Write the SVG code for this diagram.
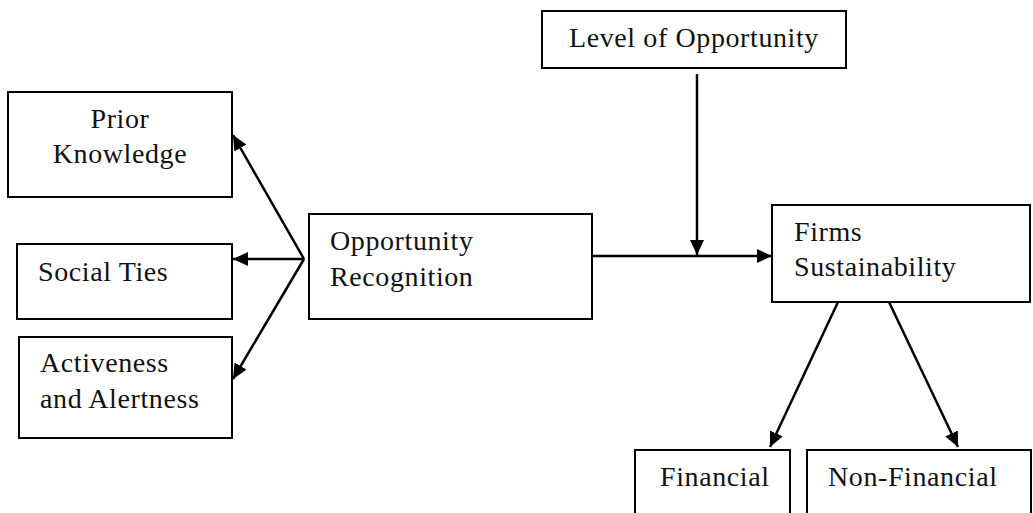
<svg xmlns="http://www.w3.org/2000/svg" width="1033" height="513" viewBox="0 0 1033 513">
<style>
.box{fill:#fff;stroke:#000;stroke-width:2}
.t{font-family:"Liberation Serif",serif;font-size:28px;letter-spacing:0.6px;fill:#111}
.c{stroke:#000;stroke-width:2.5;fill:none}
</style>
<defs>
<marker id="ah" markerUnits="userSpaceOnUse" markerWidth="16" markerHeight="14" refX="15" refY="7" orient="auto">
<path d="M0,0 L15,7 L0,14 Z" fill="#000"/>
</marker>
</defs>
<rect width="1033" height="513" fill="#fff"/>
<g id="prior-knowledge"><rect class="box" x="8" y="92" width="224" height="105"/>
<text class="t" x="120" y="128" text-anchor="middle">Prior</text>
<text class="t" x="120" y="163" text-anchor="middle">Knowledge</text></g>
<g id="social-ties"><rect class="box" x="17" y="244" width="215" height="75"/>
<text class="t" x="38" y="281">Social Ties</text></g>
<g id="activeness"><rect class="box" x="19" y="337" width="213" height="101"/>
<text class="t" x="40" y="372">Activeness</text>
<text class="t" x="40" y="408">and Alertness</text></g>
<g id="opportunity-recognition"><rect class="box" x="309" y="214" width="283" height="105"/>
<text class="t" x="330" y="250">Opportunity</text>
<text class="t" x="330" y="286">Recognition</text></g>
<g id="level-of-opportunity"><rect class="box" x="542" y="11" width="304" height="57"/>
<text class="t" x="694" y="47" text-anchor="middle">Level of Opportunity</text></g>
<g id="firms-sustainability"><rect class="box" x="772" y="205" width="258" height="97"/>
<text class="t" x="794" y="241">Firms</text>
<text class="t" x="794" y="276">Sustainability</text></g>
<g id="financial"><rect class="box" x="635" y="450" width="155" height="80"/>
<text class="t" x="660" y="486">Financial</text></g>
<g id="non-financial"><rect class="box" x="807" y="450" width="224" height="80"/>
<text class="t" x="828" y="486">Non-Financial</text></g>
<g id="connectors">
<line class="c" x1="304" y1="259" x2="233" y2="135" marker-end="url(#ah)"/>
<line class="c" x1="304" y1="259" x2="233" y2="259" marker-end="url(#ah)"/>
<line class="c" x1="304" y1="259" x2="233" y2="379" marker-end="url(#ah)"/>
<line class="c" x1="592" y1="256" x2="772" y2="256" marker-end="url(#ah)"/>
<line class="c" x1="697" y1="74" x2="697" y2="255" marker-end="url(#ah)"/>
<line class="c" x1="838" y1="302" x2="770" y2="447" marker-end="url(#ah)"/>
<line class="c" x1="889" y1="302" x2="958" y2="447" marker-end="url(#ah)"/>
</g>
</svg>
